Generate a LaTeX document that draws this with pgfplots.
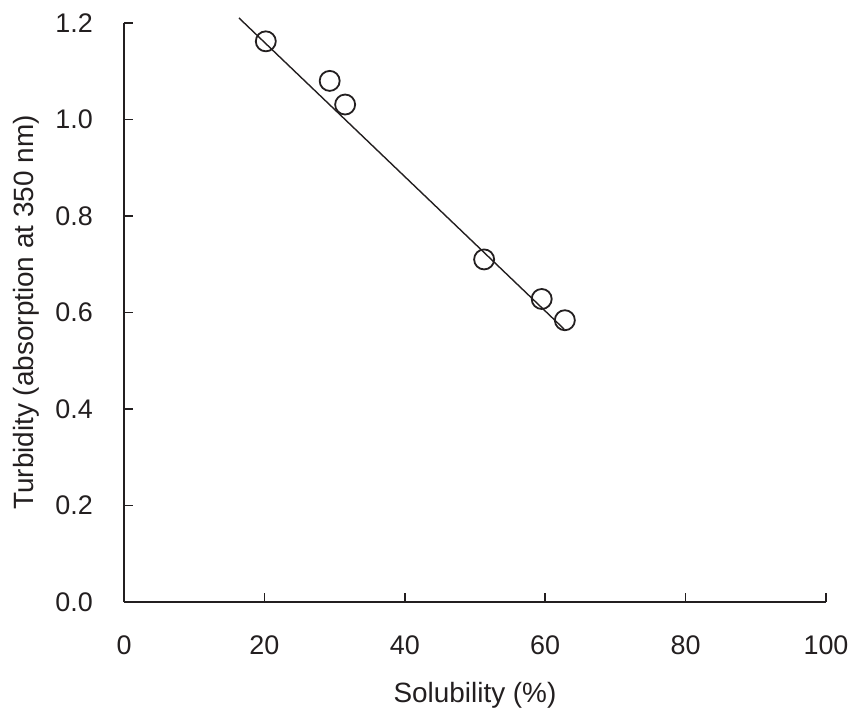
\documentclass[border=0pt]{standalone}
\usepackage{fontspec}
\setmainfont{Liberation Sans}
\usepackage{pgfplots}
\pgfplotsset{compat=1.18}
\definecolor{ink}{HTML}{231F20}
\begin{document}
\begin{tikzpicture}
\begin{axis}[
  scale only axis,
  width=702bp, height=579bp,
  xmin=0, xmax=100, ymin=0, ymax=1.2,
  axis x line*=bottom, axis y line*=left,
  axis line style={ink, line width=1.5bp},
  every tick/.style={ink, line width=1.5bp},
  tick align=inside,
  major tick length=9bp,
  xtick={0,20,40,60,80,100},
  ytick={0,0.2,0.4,0.6,0.8,1.0,1.2},
  /pgf/number format/assume math mode=true,
  tick label style={font=\fontsize{27}{32}\selectfont, text=ink, inner sep=0pt},
  xticklabel style={anchor=base, yshift=-52bp},
  yticklabel style={anchor=east, xshift=-31bp, /pgf/number format/fixed, /pgf/number format/fixed zerofill, /pgf/number format/precision=1},
  xlabel={Solubility (\%)},
  ylabel={Turbidity (absorption at 350 nm)},
  label style={font=\fontsize{28}{33}\selectfont, text=ink, inner sep=0pt},
  xlabel style={at={(axis description cs:0.5,-0.1744)}, anchor=base},
  ylabel style={at={(axis description cs:-0.1296,0.5)}, anchor=base},
  clip=false,
]
\addplot[ink, line width=1.4bp] coordinates {(16.38,1.2104) (62.68,0.5658)};
\addplot[only marks, mark=o, mark size=10bp, ink, mark options={line width=1.8bp}] coordinates {
  (20.2,1.162) (29.3,1.080) (31.5,1.031) (51.3,0.710) (59.5,0.628) (62.8,0.584)
};
\end{axis}
\pgfresetboundingbox
\path[use as bounding box] ([xshift=-124bp,yshift=-107bp]current axis.south west) rectangle ([xshift=24bp,yshift=23bp]current axis.north east);
\end{tikzpicture}
\end{document}
